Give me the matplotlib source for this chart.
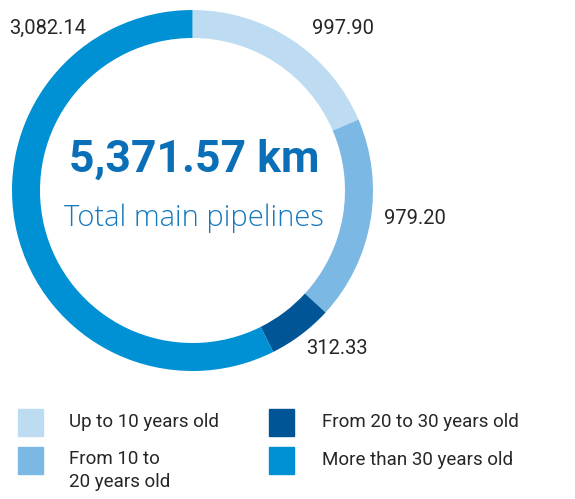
import matplotlib
matplotlib.use("Agg")
import matplotlib.pyplot as plt
from matplotlib.patches import Rectangle

# Main pipeline length by age group (km)
categories = ["Up to 10 years old", "From 10 to\n20 years old",
              "From 20 to 30 years old", "More than 30 years old"]
lengths_km = [997.90, 979.20, 312.33, 3082.14]
colors = ["#BDDCF2", "#7BB8E4", "#005596", "#0090D4"]
total_label = "5,371.57 km"
subtitle = "Total main pipelines"

W, H = 575, 499
fig = plt.figure(figsize=(W / 100, H / 100), dpi=100)


def px(x, y):
    """Pixel coords measured from the top-left corner to figure fraction."""
    return x / W, 1 - y / H


# Donut ring
cx, cy, r_out, ring = 192.5, 190.5, 180.5, 28
ax = fig.add_axes([(cx - r_out) / W, (H - cy - r_out) / H,
                   2 * r_out / W, 2 * r_out / H])
ax.pie(lengths_km, colors=colors, startangle=90, counterclock=False,
       radius=1.0, wedgeprops=dict(width=ring / r_out, linewidth=0))
ax.set_xlim(-1, 1)
ax.set_ylim(-1, 1)
ax.set_aspect("equal")
ax.axis("off")

# Centre text
fig.text(*px(194, 160), total_label, ha="center", va="center",
         fontsize=32, fontweight="bold", color="#0A6FB7", family="Roboto")
fig.text(*px(194, 218), subtitle, ha="center", va="center",
         fontsize=21, fontweight="light", color="#1479BE", family="Open Sans")

# Value labels around the ring
label_pos = [(374, 28, "right"), (384, 219, "left"),
             (306, 348, "left"), (9, 28, "left")]
for v, (x, y, ha) in zip(lengths_km, label_pos):
    fig.text(*px(x, y), f"{v:,.2f}", ha=ha, va="center",
             fontsize=14.5, color="#262626", family="Roboto")

# Legend
legend_pos = [(18, 409, 69), (18, 447, 69), (269, 409, 322), (269, 447, 322)]
for cat, col, (sx, sy, tx) in zip(categories, colors, legend_pos):
    x0, y0 = px(sx, sy + 27)
    fig.patches.append(Rectangle((x0, y0), 25 / W, 27 / H, color=col,
                                 transform=fig.transFigure, figure=fig))
    if "\n" in cat:
        fig.text(*px(tx, sy + 3), cat, ha="left", va="top",
                 fontsize=13.5, color="#262626", family="Roboto",
                 linespacing=1.35)
    else:
        fig.text(*px(tx, sy + 13), cat, ha="left", va="center",
                 fontsize=13.5, color="#262626", family="Roboto")

fig.savefig("out.png", dpi=100)
